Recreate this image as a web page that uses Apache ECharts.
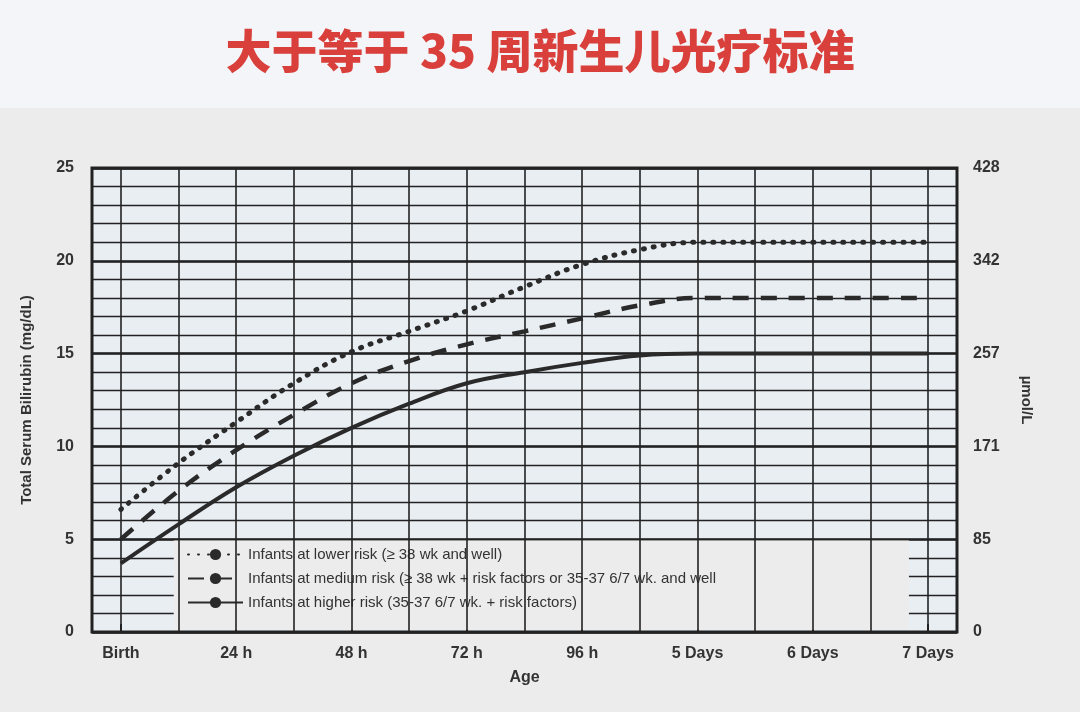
<!DOCTYPE html>
<html><head><meta charset="utf-8">
<script src="https://cdn.jsdelivr.net/npm/echarts@6/dist/echarts.min.js"></script>
<style>html,body{margin:0;padding:0;background:#ececec}#c{width:1080px;height:712px}</style>
</head><body><div id="c"></div>
<script>
const hours = [0,12,24,36,48,60,72,84,96,108,120,132,144,156,168];
const lowerRisk  = [6.6,9.1,11.3,13.4,15.1,16.2,17.3,18.6,19.8,20.6,21,21,21,21,21];
const mediumRisk = [5.0,7.6,9.8,11.7,13.4,14.6,15.5,16.2,16.9,17.6,18,18,18,18,18];
const higherRisk = [3.7,5.8,7.8,9.5,11.0,12.3,13.4,14.0,14.5,14.9,15,15,15,15,15];
const xTickValues = [0,24,48,72,96,120,144,168];
const xTickLabels = ['Birth','24 h','48 h','72 h','96 h','5 Days','6 Days','7 Days'];
const gridHours = [0,12,24,36,48,60,72,84,96,108,120,132,144,156,168];
const rightTickLabels = {0:'0',5:'85',10:'171',15:'257',20:'342',25:'428'};
const seriesNames = ['Infants at lower risk (≥ 38 wk and well)',
  'Infants at medium risk (≥ 38 wk + risk factors or 35-37 6/7 wk. and well',
  'Infants at higher risk (35-37 6/7 wk. + risk factors)'];
const title = '大于等于 35 周新生儿光疗标准';

const ch = echarts.init(document.getElementById('c'));
const lab = {fontFamily:'Liberation Sans, Arial', fontSize:16, fontWeight:'bold', color:'#333'};
function pts(v){return hours.map((h,i)=>[h,v[i]]);}
ch.setOption({
  backgroundColor:'#ececec',
  animation:false,
  graphic:[
    {type:'rect', shape:{x:0,y:0,width:1080,height:108}, style:{fill:'#f3f5f8'}, z:-10},
    {type:'text', left:'center', top:28, style:{text:title, font:'900 46px "Noto Sans CJK SC"', fill:'#d9403c'}}
  ],
  grid:{left:92,right:123,top:168,bottom:80,show:true,backgroundColor:'#e9eef3',borderColor:'#222',borderWidth:3},
  legend:{orient:'vertical',left:182,top:542,itemGap:9,itemWidth:55,itemHeight:14,
    textStyle:{fontFamily:'Liberation Sans, Arial',fontSize:15,color:'#333'},
    data:seriesNames},
  xAxis:{type:'value',min:-6,max:174,name:'Age',nameLocation:'middle',nameGap:38,nameTextStyle:lab,
    axisLine:{show:false},splitLine:{show:false},
    axisTick:{show:true,customValues:xTickValues,inside:true,length:8,lineStyle:{color:'#222',width:2}},
    axisLabel:{customValues:xTickValues,formatter:v=>xTickLabels[xTickValues.indexOf(v)],...lab,margin:14}},
  yAxis:[
    {type:'value',min:0,max:25,interval:1,name:'Total Serum Bilirubin (mg/dL)',nameLocation:'middle',nameGap:58,
      nameTextStyle:{fontFamily:'Liberation Sans, Arial',fontSize:15,fontWeight:'bold',color:'#333'},
      axisLine:{show:false},axisTick:{show:false},
      axisLabel:{formatter:v=>v%5===0?String(v):'',...lab,margin:18},
      splitLine:{lineStyle:{color:'#222',width:1.3}}},
    {type:'value',min:0,max:25,interval:5,position:'right',name:'µmol/L',nameLocation:'middle',nameGap:62,nameRotate:-90,
      nameTextStyle:{fontFamily:'Liberation Sans, Arial',fontSize:15,fontWeight:'bold',color:'#333'},
      axisLine:{show:false},axisTick:{show:false},
      axisLabel:{formatter:v=>rightTickLabels[v],...lab,margin:16},
      splitLine:{lineStyle:{color:'#222',width:2.6}}}
  ],
  series:[
    {type:'line',name:'_grid',data:[],silent:true,z:1,
      markLine:{silent:true,symbol:'none',label:{show:false},lineStyle:{color:'#222',type:'solid',width:1.6},
        data:gridHours.map(h=>({xAxis:h}))}},
    {type:'line',name:'_box',data:[],silent:true,z:2,
      markArea:{silent:true,itemStyle:{color:'#ececec'},data:[[{coord:[11,0.12]},{coord:[164,4.93]}]]}},
    {type:'line',name:seriesNames[0],data:pts(lowerRisk),smooth:0.4,symbol:'none',z:5,
      lineStyle:{color:'#2a2a2a',width:5,type:[1,9],cap:'round'},itemStyle:{color:'#2a2a2a'}},
    {type:'line',name:seriesNames[1],data:pts(mediumRisk),smooth:0.4,symbol:'none',z:5,
      lineStyle:{color:'#2a2a2a',width:4.5,type:[16,12]},itemStyle:{color:'#2a2a2a'}},
    {type:'line',name:seriesNames[2],data:pts(higherRisk),smooth:0.4,symbol:'none',z:5,
      lineStyle:{color:'#2a2a2a',width:4},itemStyle:{color:'#2a2a2a'}}
  ]
});
</script></body></html>
